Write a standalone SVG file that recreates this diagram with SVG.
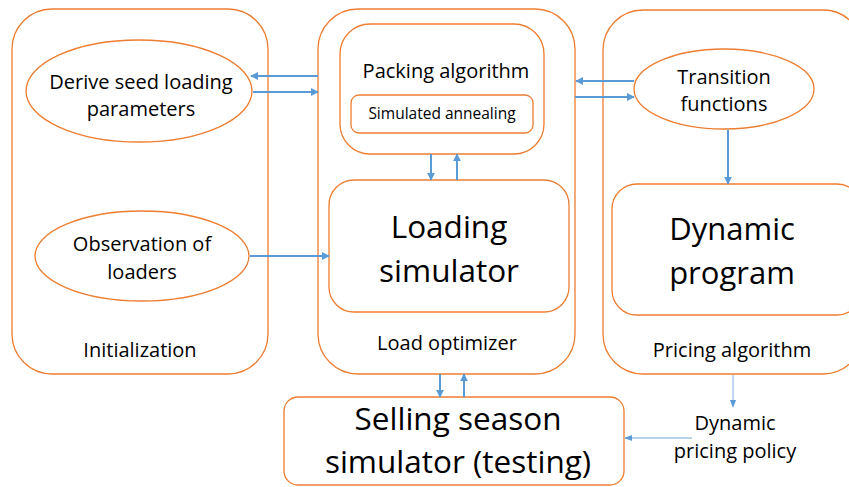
<svg xmlns="http://www.w3.org/2000/svg" width="849" height="487" viewBox="0 0 849 487">
<defs>
<style>
.box{fill:#fff;stroke:#ED7D31;stroke-width:1.3}
.t{font-family:"Open Sans","Noto Sans",sans-serif;fill:#000;text-anchor:middle;dominant-baseline:central}
.s{font-size:20px}
.c{stroke:#5B9BD5;stroke-width:2;fill:none}
.cl{stroke:#9DC3E6;stroke-width:1.3;fill:none}
</style>
<marker id="a" viewBox="0 0 10 10" refX="9" refY="5" markerWidth="4" markerHeight="4" orient="auto"><path d="M0,0L10,5L0,10z" fill="#5B9BD5"/></marker>
<marker id="al" viewBox="0 0 10 10" refX="9" refY="5" markerWidth="6" markerHeight="6" orient="auto"><path d="M0,1L10,5L0,9z" fill="#5B9BD5"/></marker>
</defs>
<rect width="849" height="487" fill="#fff"/>
<g id="initialization">
<rect class="box" x="12" y="9" width="256" height="365" rx="40"/>
<text class="t s" x="140" y="349">Initialization</text>
</g>
<g id="derive-seed">
<ellipse class="box" cx="139" cy="91" rx="113" ry="51"/>
<text class="t s" x="141" y="81">Derive seed loading</text>
<text class="t s" x="141" y="108">parameters</text>
</g>
<g id="observation">
<ellipse class="box" cx="142" cy="256" rx="107" ry="45"/>
<text class="t s" x="142" y="243">Observation of</text>
<text class="t s" x="142" y="271">loaders</text>
</g>
<g id="load-optimizer">
<rect class="box" x="318" y="9" width="257" height="365" rx="40"/>
<text class="t s" x="447" y="342">Load optimizer</text>
</g>
<g id="packing">
<rect class="box" x="340" y="24" width="204" height="130" rx="30"/>
<text class="t s" x="446" y="70">Packing algorithm</text>
</g>
<g id="annealing">
<rect class="box" x="351" y="95" width="182" height="38" rx="8"/>
<text class="t" x="442" y="113" font-size="15.5">Simulated annealing</text>
</g>
<g id="loading-sim">
<rect class="box" x="329" y="180" width="240" height="132" rx="25"/>
<text class="t" x="449" y="225" font-size="31.5">Loading</text>
<text class="t" x="449" y="269" font-size="31.5">simulator</text>
</g>
<g id="pricing">
<rect class="box" x="603" y="10" width="260" height="364" rx="40"/>
<text class="t s" x="732" y="349">Pricing algorithm</text>
</g>
<g id="transition">
<ellipse class="box" cx="724" cy="89" rx="90" ry="40"/>
<text class="t s" x="724" y="76">Transition</text>
<text class="t s" x="724" y="103">functions</text>
</g>
<g id="dynamic-program">
<rect class="box" x="612" y="184" width="250" height="131" rx="25"/>
<text class="t" x="732" y="228" font-size="31">Dynamic</text>
<text class="t" x="732" y="272" font-size="31">program</text>
</g>
<g id="selling">
<rect class="box" x="284" y="397" width="340" height="88" rx="14"/>
<text class="t" x="458" y="417" font-size="31.5">Selling season</text>
<text class="t" x="458" y="460" font-size="31.5">simulator (testing)</text>
</g>
<g id="policy">
<text class="t s" x="735" y="422">Dynamic</text>
<text class="t s" x="735" y="450">pricing policy</text>
</g>
<g id="connectors">
<line class="c" x1="318" y1="76" x2="251" y2="76" marker-end="url(#a)"/>
<line class="c" x1="253" y1="92" x2="318" y2="92" marker-end="url(#a)"/>
<line class="c" x1="250" y1="256" x2="329" y2="256" marker-end="url(#a)"/>
<line class="c" x1="431" y1="154" x2="431" y2="180" marker-end="url(#a)"/>
<line class="c" x1="457" y1="180" x2="457" y2="154" marker-end="url(#a)"/>
<line class="c" x1="634" y1="81" x2="576" y2="81" marker-end="url(#a)"/>
<line class="c" x1="575" y1="97" x2="634" y2="97" marker-end="url(#a)"/>
<line class="c" x1="728" y1="130" x2="728" y2="184" marker-end="url(#a)"/>
<line class="c" x1="440" y1="374" x2="440" y2="397" marker-end="url(#a)"/>
<line class="c" x1="464" y1="397" x2="464" y2="374" marker-end="url(#a)"/>
<line class="cl" x1="733" y1="375" x2="733" y2="407" marker-end="url(#al)"/>
<line class="cl" x1="692" y1="438" x2="625" y2="438" marker-end="url(#al)"/>
</g>
</svg>
